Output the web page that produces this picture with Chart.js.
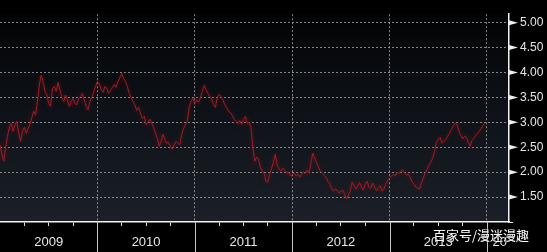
<!DOCTYPE html>
<html>
<head>
<meta charset="utf-8">
<script src="https://cdn.jsdelivr.net/npm/chart.js@4.4.1/dist/chart.umd.min.js"></script>
<style>
    html, body { margin: 0; padding: 0; background: #000; }
    #cadre     { width: 547px; height: 252px; }
</style>
</head>
<body>
<div id="cadre"><canvas id="graphique" width="547" height="252"></canvas></div>
<script>
// ---------------------------------------------------------------------------
// DONNÉES (une valeur par semaine)
// ---------------------------------------------------------------------------

const ANNEES = [2009, 2010, 2011, 2012, 2013];

const valeurs2009 = [2.55, 2.35, 2.22, 2.50, 2.72, 2.90, 2.98, 2.82, 2.95, 3.02,
                     2.78, 2.62, 2.82, 2.90, 2.78, 2.88, 2.95, 3.10, 3.22, 3.15,
                     3.42, 3.75, 3.95, 3.82, 3.62, 3.55, 3.38, 3.32, 3.68, 3.72,
                     3.62, 3.80, 3.65, 3.50, 3.42, 3.55, 3.45, 3.32, 3.42, 3.48,
                     3.38, 3.35, 3.48, 3.52, 3.58, 3.45, 3.32, 3.25, 3.42, 3.50,
                     3.60, 3.72];
const valeurs2010 = [3.82, 3.78, 3.65, 3.60, 3.72, 3.68, 3.58, 3.64, 3.70, 3.76,
                     3.70, 3.82, 3.90, 3.98, 3.88, 3.82, 3.72, 3.58, 3.50, 3.42,
                     3.35, 3.24, 3.30, 3.18, 3.08, 3.12, 2.95, 3.00, 3.06, 2.98,
                     2.90, 2.78, 2.68, 2.52, 2.62, 2.76, 2.65, 2.58, 2.60, 2.52,
                     2.46, 2.55, 2.62, 2.58, 2.55, 2.75, 2.88, 2.95, 3.02, 3.30,
                     3.42, 3.48];
const valeurs2011 = [3.38, 3.45, 3.40, 3.50, 3.62, 3.74, 3.66, 3.58, 3.52, 3.46,
                     3.36, 3.30, 3.50, 3.56, 3.52, 3.45, 3.35, 3.30, 3.22, 3.20,
                     3.14, 3.06, 3.02, 2.98, 3.04, 2.96, 3.05, 3.12, 2.98, 3.00,
                     2.90, 2.48, 2.22, 2.30, 2.26, 2.10, 2.02, 1.98, 1.82, 1.80,
                     1.96, 2.08, 2.20, 2.36, 2.14, 2.06, 2.02, 2.08, 2.04, 1.98,
                     2.00, 1.93];
const valeurs2012 = [1.95, 1.98, 1.92, 1.96, 1.90, 1.96, 2.00, 1.97, 2.04, 1.98,
                     2.18, 2.38, 2.28, 2.20, 2.10, 2.02, 1.98, 1.94, 1.90, 1.82,
                     1.78, 1.68, 1.62, 1.66, 1.64, 1.58, 1.62, 1.64, 1.55, 1.47,
                     1.54, 1.62, 1.80, 1.74, 1.66, 1.72, 1.79, 1.70, 1.64, 1.76,
                     1.82, 1.70, 1.68, 1.78, 1.70, 1.63, 1.68, 1.73, 1.62, 1.66,
                     1.76, 1.84];
const valeurs2013 = [1.88, 1.92, 1.96, 1.92, 2.00, 1.97, 2.02, 2.05, 1.98, 1.94,
                     1.96, 1.90, 1.80, 1.76, 1.70, 1.68, 1.66, 1.78, 1.88, 1.98,
                     2.05, 2.14, 2.20, 2.28, 2.42, 2.60, 2.66, 2.70, 2.58, 2.62,
                     2.66, 2.72, 2.78, 2.86, 2.92, 2.98, 2.96, 2.82, 2.74, 2.67,
                     2.72, 2.70, 2.60, 2.52, 2.64, 2.68, 2.74, 2.78, 2.82, 2.88,
                     2.95, 2.98];

// Graduations
const GRADUATIONS_Y   = [1.00, 1.25, 1.50, 1.75, 2.00, 2.25, 2.50, 2.75, 3.00,
                         3.25, 3.50, 3.75, 4.00, 4.25, 4.50, 4.75, 5.00];
const ETIQUETTES_Y    = [1.50, 2.00, 2.50, 3.00, 3.50, 4.00, 4.50, 5.00];
const TRIMESTRES_X    = [2009.25, 2009.5, 2009.75, 2010.25, 2010.5, 2010.75,
                         2011.25, 2011.5, 2011.75, 2012.25, 2012.5, 2012.75,
                         2013.25, 2013.5, 2013.75];
const LIMITES_ANNEES  = [2010, 2011, 2012, 2013, 2014];
const ETIQUETTES_ANS  = ['2009', '2010', '2011', '2012', '2013', '20'];
const POSITIONS_ANS   = [2009.5, 2010.5, 2011.5, 2012.5, 2013.5, 2014.13];
const FILIGRANE       = '百家号/漫迷漫趣';

// ---------------------------------------------------------------------------
// CONSTRUCTION DE LA SÉRIE
// ---------------------------------------------------------------------------

const SERIES = [valeurs2009, valeurs2010, valeurs2011, valeurs2012, valeurs2013];
const points = [];
SERIES.forEach((vals, k) => {
    vals.forEach((v, i) => points.push({ x: ANNEES[k] + i / vals.length, y: v }));
});

const ticksX = [
    ...TRIMESTRES_X.map(v => ({ value: v, type: 'q' })),
    ...LIMITES_ANNEES.map(v => ({ value: v, type: 'a' })),
    ...POSITIONS_ANS.filter(v => !TRIMESTRES_X.includes(v)).map(v => ({ value: v, type: 'l' })),
].sort((a, b) => a.value - b.value);

const estMajeur = v => ETIQUETTES_Y.some(e => Math.abs(e - v) < 1e-6);
const GRILLE    = 'rgba(175,175,180,0.75)';

// ---------------------------------------------------------------------------
// PLUGINS DE DÉCOR
// ---------------------------------------------------------------------------

const decor = {
    id: 'decor',
    beforeDraw(chart) {
        const { ctx, chartArea: a } = chart;
        ctx.save();
        ctx.fillStyle = '#000';
        ctx.fillRect(0, 0, chart.width, chart.height);
        const g = ctx.createLinearGradient(0, a.top, 0, a.bottom);
        g.addColorStop(0,    '#020304');
        g.addColorStop(0.45, '#0e1218');
        g.addColorStop(1,    '#1b1f27');
        ctx.fillStyle = g;
        ctx.fillRect(a.left, a.top, a.right - a.left, a.bottom - a.top);
        ctx.restore();
    },
    beforeDatasetDraw(chart) {
        const ctx = chart.ctx;
        ctx.save();
        ctx.shadowColor = 'rgba(160,20,30,0.7)';
        ctx.shadowBlur  = 4;
    },
    afterDatasetDraw(chart) {
        chart.ctx.restore();
    },
    afterDraw(chart) {
        const { ctx, chartArea: a, scales: { x, y } } = chart;
        ctx.save();

        // Séparateurs d'années sous l'axe
        ctx.strokeStyle = '#c4c4c4';
        ctx.lineWidth   = 1;
        LIMITES_ANNEES.forEach(an => {
            const px = Math.round(x.getPixelForValue(an)) + 0.5;
            ctx.beginPath();
            ctx.moveTo(px, a.bottom);
            ctx.lineTo(px, chart.height);
            ctx.stroke();
        });

        // Flèches des graduations principales
        ctx.fillStyle = '#eeeeee';
        ETIQUETTES_Y.forEach(v => {
            const py = y.getPixelForValue(v);
            ctx.beginPath();
            ctx.moveTo(a.right, py - 2.5);
            ctx.lineTo(a.right + 9, py);
            ctx.lineTo(a.right, py + 2.5);
            ctx.closePath();
            ctx.fill();
        });

        // Filigrane
        ctx.font         = '13px "Noto Sans CJK SC"';
        ctx.textBaseline = 'middle';
        ctx.textAlign    = 'left';
        ctx.shadowColor  = 'rgba(0,0,0,0.8)';
        ctx.shadowBlur   = 2;
        ctx.fillStyle    = '#ffffff';
        ctx.fillText(FILIGRANE, 433, 235);
        ctx.restore();
    },
};

// ---------------------------------------------------------------------------
// GRAPHIQUE
// ---------------------------------------------------------------------------

new Chart(document.getElementById('graphique'), {
    type: 'line',
    data: {
        datasets: [{
            data:        points,
            borderColor: '#a01c26',
            borderWidth: 1,
            pointRadius: 0,
            tension:     0,
        }],
    },
    options: {
        responsive:       false,
        devicePixelRatio: 1,
        animation:        false,
        layout:  { padding: 0 },
        plugins: { legend: { display: false }, tooltip: { enabled: false } },
        scales: {
            x: {
                type: 'linear',
                min:  2009,
                max:  2014.226,
                afterBuildTicks: s => { s.ticks = ticksX.map(t => ({ value: t.value })); },
                afterFit:        s => { s.height = 30; },
                grid: {
                    color:      c => ticksX[c.index] && ticksX[c.index].type === 'a' ? GRILLE : 'transparent',
                    tickColor:  c => ticksX[c.index] && ticksX[c.index].type === 'q' ? '#dddddd' : 'transparent',
                    tickLength: 4,
                    lineWidth:  1,
                },
                border: { color: '#f2f2f2', width: 1.5, dash: [2, 2] },
                ticks: {
                    autoSkip:    false,
                    maxRotation: 0,
                    padding:     9,
                    color:       '#e6e6e6',
                    font:        { family: 'Liberation Sans', size: 13 },
                    callback: v => {
                        const i = POSITIONS_ANS.findIndex(p => Math.abs(p - v) < 1e-6);
                        return i >= 0 ? ETIQUETTES_ANS[i] : '';
                    },
                },
            },
            y: {
                position: 'right',
                min: 1.0,
                max: 5.17,
                afterBuildTicks: s => { s.ticks = GRADUATIONS_Y.map(v => ({ value: v })); },
                afterFit:        s => { s.width = 38; },
                grid: {
                    color:      c => c.tick && estMajeur(c.tick.value) ? GRILLE : 'transparent',
                    tickColor:  '#eeeeee',
                    tickLength: 4,
                    lineWidth:  1,
                },
                border: { color: '#f2f2f2', width: 1.5, dash: [2, 2] },
                ticks: {
                    padding: 7,
                    color:   '#e6e6e6',
                    font:    { family: 'Liberation Sans', size: 12 },
                    callback: v => estMajeur(v) ? v.toFixed(2) : '',
                },
            },
        },
    },
    plugins: [decor],
});
</script>
</body>
</html>
